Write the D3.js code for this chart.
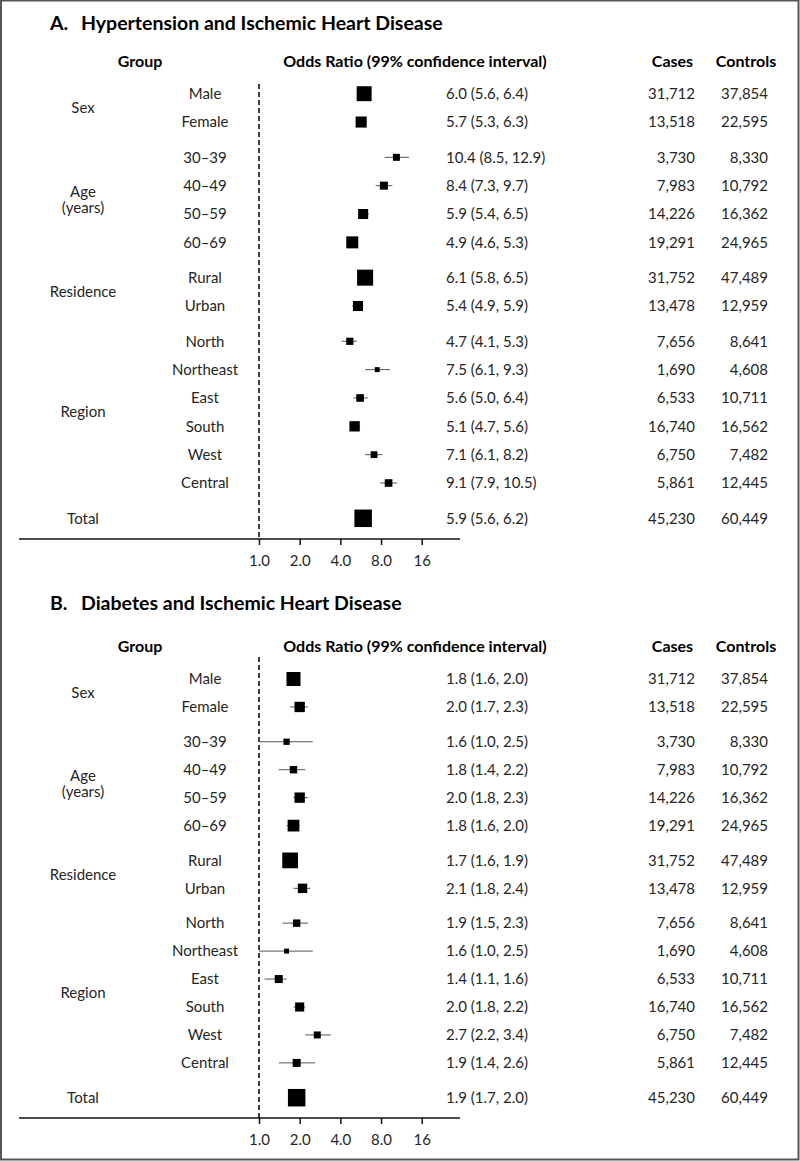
<!DOCTYPE html>
<html>
<head>
<meta charset="utf-8">
<script src="https://cdn.jsdelivr.net/npm/d3@7"></script>
<style>
  html, body { margin: 0; padding: 0; background: #fff; }
  svg { display: block; font-family: Lato, "Noto Sans", sans-serif; }
</style>
</head>
<body>
<svg id="chart" width="800" height="1161"></svg>
<script>
// ---------------- data ----------------
const groups = ["Sex", "Age|(years)", "Residence", "Region", "Total"];
const subgroups = ["Male", "Female", "30–39", "40–49", "50–59", "60–69", "Rural", "Urban",
  "North", "Northeast", "East", "South", "West", "Central", "Total"];
const groupOfRow = [0, 0, 1, 1, 1, 1, 2, 2, 3, 3, 3, 3, 3, 3, 4];
const cases = ["31,712", "13,518", "3,730", "7,983", "14,226", "19,291", "31,752", "13,478",
  "7,656", "1,690", "6,533", "16,740", "6,750", "5,861", "45,230"];
const controls = ["37,854", "22,595", "8,330", "10,792", "16,362", "24,965", "47,489", "12,959",
  "8,641", "4,608", "10,711", "16,562", "7,482", "12,445", "60,449"];

const orA = [6.0, 5.7, 10.4, 8.4, 5.9, 4.9, 6.1, 5.4, 4.7, 7.5, 5.6, 5.1, 7.1, 9.1, 5.9];
const loA = [5.6, 5.3, 8.5, 7.3, 5.4, 4.6, 5.8, 4.9, 4.1, 6.1, 5.0, 4.7, 6.1, 7.9, 5.6];
const hiA = [6.4, 6.3, 12.9, 9.7, 6.5, 5.3, 6.5, 5.9, 5.3, 9.3, 6.4, 5.6, 8.2, 10.5, 6.2];
const weightA = [73, 40, 16, 21, 33, 47, 84, 33, 17, 8, 19, 35, 15, 19, 100];

const orB = [1.8, 2.0, 1.6, 1.8, 2.0, 1.8, 1.7, 2.1, 1.9, 1.6, 1.4, 2.0, 2.7, 1.9, 1.9];
const loB = [1.6, 1.7, 1.0, 1.4, 1.8, 1.6, 1.6, 1.8, 1.5, 1.0, 1.1, 1.8, 2.2, 1.4, 1.7];
const hiB = [2.0, 2.3, 2.5, 2.2, 2.3, 2.0, 1.9, 2.4, 2.3, 2.5, 1.6, 2.2, 3.4, 2.6, 2.0];
const weightB = [64, 35, 13, 18, 35, 45, 81, 29, 18, 8, 21, 27, 16, 21, 100];

const tickValues = [1, 2, 4, 8, 16];
const tickLabels = ["1.0", "2.0", "4.0", "8.0", "16"];

const panels = [
  { title: "Hypertension and Ischemic Heart Disease", letter: "A.", or: orA, lo: loA, hi: hiA, w: weightA,
    titleY: 30, headY: 67, row0: 93.7, rowN: 518.3, dashTop: 84, axisY: 539 },
  { title: "Diabetes and Ischemic Heart Disease", letter: "B.", or: orB, lo: loB, hi: hiB, w: weightB,
    titleY: 610, headY: 652, row0: 679, rowN: 1097.7, dashTop: 657, axisY: 1118 }
];

// ---------------- drawing ----------------
const svg = d3.select("#chart");
const ink = "#111", soft = "#262626";

// frame
svg.append("rect").attr("x", 1).attr("y", 0.5).attr("width", 797.5).attr("height", 1159)
  .attr("fill", "none").attr("stroke", "#555").attr("stroke-width", 2);

const x = d3.scaleLog().base(2).domain([1, 16]).range([259, 421.7]);
const size = d3.scaleSqrt().domain([0, 100]).range([0, 17.5]);

const gapFrac = 0.245;
const slots = subgroups.map((_, i) => i + groupOfRow[i] * gapFrac);

panels.forEach(p => {
  const g = svg.append("g");
  const y = d3.scaleLinear().domain([0, slots[slots.length - 1]]).range([p.row0, p.rowN]);
  const rowY = i => y(slots[i]);

  // title
  const t = g.append("text").attr("y", p.titleY).attr("font-weight", 700).attr("font-size", 19.5).attr("fill", "#000");
  t.append("tspan").attr("x", 50).text(p.letter);
  t.append("tspan").attr("x", 81).text(p.title);

  // headers
  const heads = [["Group", 140], ["Odds Ratio (99% confidence interval)", 415], ["Cases", 672.5], ["Controls", 746]];
  g.selectAll("text.head").data(heads).join("text").attr("class", "head")
    .attr("x", d => d[1]).attr("y", p.headY)
    .attr("text-anchor", "middle").attr("font-weight", 700).attr("font-size", 16).attr("fill", "#000")
    .text(d => d[0]);

  // group labels
  groups.forEach((gname, gi) => {
    const idx = groupOfRow.map((v, i) => v === gi ? i : -1).filter(i => i >= 0);
    const cy = (rowY(idx[0]) + rowY(idx[idx.length - 1])) / 2;
    const lines = gname.split("|");
    lines.forEach((ln, li) => {
      g.append("text").attr("x", 83).attr("y", cy + (li - (lines.length - 1) / 2) * 16)
        .attr("dy", "0.35em").attr("text-anchor", "middle").attr("font-size", 15).attr("fill", soft).text(ln);
    });
  });

  // row texts
  subgroups.forEach((s, i) => {
    const cy = rowY(i);
    if (s !== "Total") {
      g.append("text").attr("x", 205).attr("y", cy).attr("dy", "0.35em").attr("text-anchor", "middle")
        .attr("font-size", 15).attr("fill", soft).text(s);
    }
    g.append("text").attr("x", 446).attr("y", cy).attr("dy", "0.35em")
      .attr("font-size", 15).attr("fill", soft)
      .text(`${p.or[i].toFixed(1)} (${p.lo[i].toFixed(1)}, ${p.hi[i].toFixed(1)})`);
    g.append("text").attr("x", 695).attr("y", cy).attr("dy", "0.35em").attr("text-anchor", "end")
      .attr("font-size", 15).attr("fill", soft).text(cases[i]);
    g.append("text").attr("x", 768).attr("y", cy).attr("dy", "0.35em").attr("text-anchor", "end")
      .attr("font-size", 15).attr("fill", soft).text(controls[i]);
  });

  // reference dashed line
  g.append("line").attr("x1", x(1)).attr("x2", x(1)).attr("y1", p.dashTop).attr("y2", p.axisY)
    .attr("stroke", ink).attr("stroke-width", 1.6).attr("stroke-dasharray", "5,3");

  // whiskers
  g.selectAll("line.ci").data(subgroups).join("line").attr("class", "ci")
    .attr("x1", (d, i) => x(p.lo[i])).attr("x2", (d, i) => x(p.hi[i]))
    .attr("y1", (d, i) => rowY(i)).attr("y2", (d, i) => rowY(i))
    .attr("stroke", "#555").attr("stroke-width", 1);

  // boxes
  g.selectAll("rect.box").data(subgroups).join("rect").attr("class", "box")
    .attr("x", (d, i) => x(p.or[i]) - size(p.w[i]) / 2)
    .attr("y", (d, i) => rowY(i) - size(p.w[i]) / 2)
    .attr("width", (d, i) => size(p.w[i]))
    .attr("height", (d, i) => size(p.w[i]))
    .attr("fill", "#000");

  // axis
  g.append("line").attr("x1", 19).attr("x2", 460).attr("y1", p.axisY).attr("y2", p.axisY)
    .attr("stroke", ink).attr("stroke-width", 1.5);
  const ax = g.append("g").attr("transform", `translate(0,${p.axisY})`)
    .call(d3.axisBottom(x).tickValues(tickValues).tickFormat((d, i) => tickLabels[i]).tickSize(6).tickPadding(10));
  ax.select(".domain").remove();
  ax.selectAll(".tick line").attr("stroke", ink).attr("stroke-width", 1.5);
  ax.selectAll(".tick text").attr("font-size", 15).attr("fill", soft).attr("font-family", "Lato, 'Noto Sans', sans-serif");
});
</script>
</body>
</html>
